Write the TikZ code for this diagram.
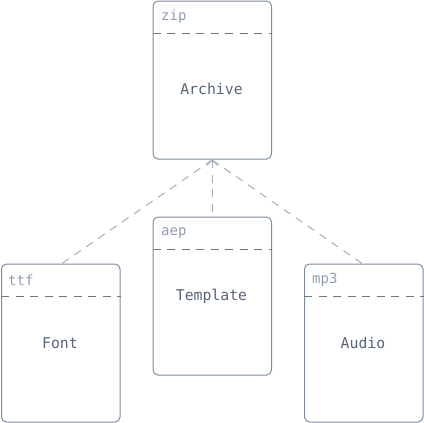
\documentclass[tikz,border=0pt]{standalone}
\usepackage{fontspec}
\setmonofont{DejaVu Sans Mono}
\definecolor{boxline}{HTML}{7F8CA0}
\definecolor{headline}{HTML}{6B7689}
\definecolor{edgecol}{HTML}{A3AEBD}
\definecolor{tagcol}{HTML}{8E9DB3}
\definecolor{bodycol}{HTML}{56647A}
\tikzset{
  filebox/.style={draw=boxline, line width=1pt, rounded corners=5pt, minimum width=118.5pt, minimum height=158pt, inner sep=0pt},
  headrule/.style={draw=headline, line width=1pt, dash pattern=on 8pt off 6.5pt},
  tag/.style={text=tagcol, font=\ttfamily\fontsize{14}{14}\selectfont, anchor=west, inner sep=0pt},
  body/.style={text=bodycol, font=\ttfamily\fontsize{14.8}{14.8}\selectfont, inner sep=0pt},
  link/.style={draw=edgecol, line width=1pt, dash pattern=on 8pt off 6.5pt},
}
\begin{document}
\begin{tikzpicture}[x=1pt,y=-1pt]
\useasboundingbox (0,0) rectangle (424,423);
% boxes
\node[filebox, anchor=north west] (arch) at (152.5,0.5) {};
\node[filebox, anchor=north west] (tmpl) at (152.5,216.5) {};
\node[filebox, anchor=north west] (font) at (1,263.5) {};
\node[filebox, anchor=north west] (aud) at (304,263.5) {};
% header rules
\draw[headrule] ([yshift=-32.5pt]arch.north west) -- ([yshift=-32.5pt]arch.north east);
\draw[headrule] ([yshift=-33pt]tmpl.north west) -- ([yshift=-33pt]tmpl.north east);
\draw[headrule] ([yshift=-33pt]font.north west) -- ([yshift=-33pt]font.north east);
\draw[headrule] ([yshift=-33pt]aud.north west) -- ([yshift=-33pt]aud.north east);
% tags
\node[tag] (t1) at (161,17) {zip};
\node[tag] (t2) at (161,233) {aep};
\node[tag] (t3) at (8,280) {ttf};
\node[tag] (t4) at (312,280) {mp3};
% body text
\node[body] (b1) at (211.5,89) {Archive};
\node[body] (b2) at (211.5,296) {Template};
\node[body] (b3) at (60,343) {Font};
\node[body] (b4) at (363,343) {Audio};
% connectors
\coordinate (apex) at ([yshift=-0.5pt]arch.south);
\coordinate (ftop) at (62,263.5);
\coordinate (atop) at (362,263.5);
\draw[link] (apex) -- (tmpl.north);
\draw[link] (apex) -- (ftop);
\draw[link] (apex) -- (atop);
\draw[draw=edgecol, line width=1pt] ([xshift=-5.5pt,yshift=-5.5pt]apex) -- (apex) -- ([xshift=5.5pt,yshift=-5.5pt]apex);
\end{tikzpicture}
\end{document}
